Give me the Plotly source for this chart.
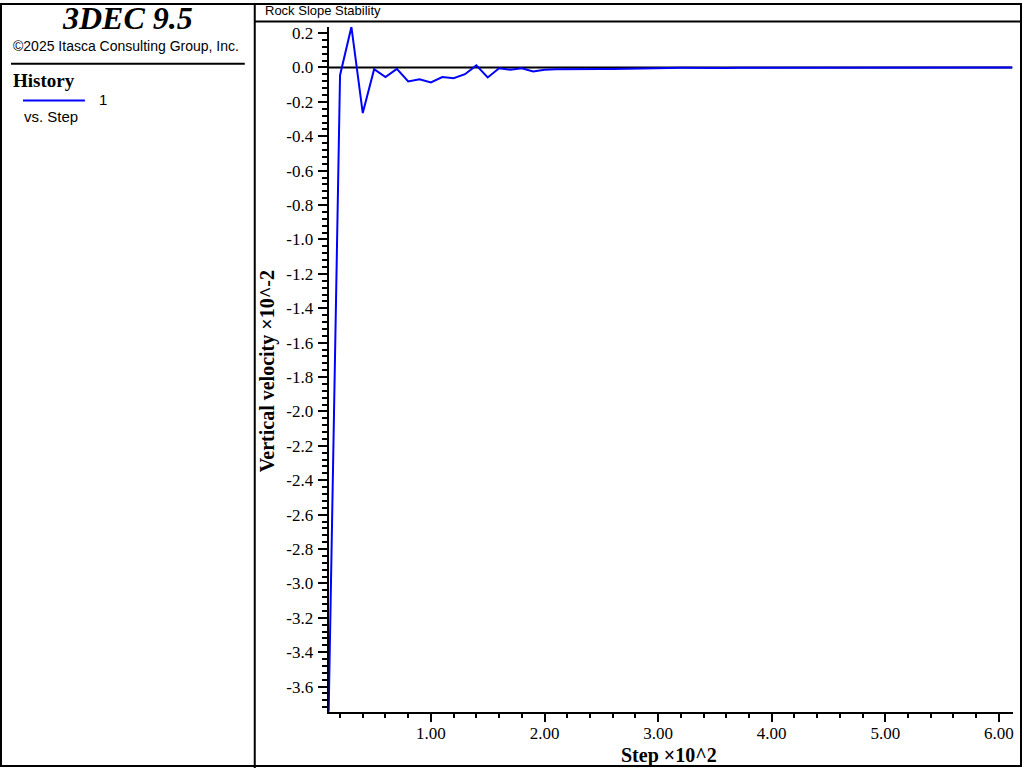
import plotly.graph_objects as go

# ---------------- data ----------------
steps = [0.10, 0.20, 0.30, 0.40, 0.50, 0.60, 0.70, 0.80, 0.90, 1.00,
         1.10, 1.20, 1.30, 1.40, 1.50, 1.60, 1.70, 1.80, 1.90, 2.00,
         2.10, 2.20, 2.30, 2.40, 2.50, 2.60, 2.70, 2.80, 2.90, 3.00,
         3.10, 3.20, 3.30, 3.40, 3.50, 3.60, 3.70, 3.80, 3.90, 4.00,
         4.10, 4.20, 4.30, 4.40, 4.50, 4.60, 4.70, 4.80, 4.90, 5.00,
         5.10, 5.20, 5.30, 5.40, 5.50, 5.60, 5.70, 5.80, 5.90, 6.00,
         6.10, 6.12]
velocity = [-3.746, -0.045, 0.236, -0.265, -0.010, -0.056, -0.008, -0.081, -0.068, -0.087,
            -0.056, -0.062, -0.039, 0.012, -0.058, -0.004, -0.013, -0.004, -0.023, -0.013,
            -0.010, -0.009, -0.009, -0.006, -0.009, -0.009, -0.007, -0.005, -0.004, -0.001,
            -0.003, -0.002, -0.003, -0.004, -0.003, -0.003, -0.001, -0.001, 0.000, -0.001,
            0.000, -0.001, 0.000, 0.000, -0.001, 0.000, 0.000, 0.000, -0.001, 0.000,
            0.000, 0.000, 0.000, -0.001, 0.000, 0.000, 0.000, 0.000, 0.000, 0.000,
            0.000, 0.000]

x_tick_vals = [1, 2, 3, 4, 5, 6]
x_tick_text = ["1.00", "2.00", "3.00", "4.00", "5.00", "6.00"]
y_tick_vals = [0.2, 0.0, -0.2, -0.4, -0.6, -0.8, -1.0, -1.2, -1.4, -1.6, -1.8,
               -2.0, -2.2, -2.4, -2.6, -2.8, -3.0, -3.2, -3.4, -3.6]
y_tick_text = ["0.2", "0.0", "-0.2", "-0.4", "-0.6", "-0.8", "-1.0", "-1.2", "-1.4",
               "-1.6", "-1.8", "-2.0", "-2.2", "-2.4", "-2.6", "-2.8", "-3.0", "-3.2",
               "-3.4", "-3.6"]

x_range = [0.10, 6.12]
y_range = [-3.746, 0.236]

# ---------------- layout helpers (pixel -> paper) ----------------
W, H = 1024, 768
def px(x):
    return x / W
def py(y):
    return 1 - y / H

SERIF = "Liberation Serif, Times New Roman, serif"
SANS = "Liberation Sans, Arial, sans-serif"

fig = go.Figure()
fig.add_trace(go.Scatter(x=steps, y=velocity, mode="lines",
                         line=dict(color="#0000ff", width=2),
                         showlegend=False, hoverinfo="x+y", cliponaxis=False))

fig.update_layout(
    width=W, height=H, autosize=False,
    margin=dict(l=0, r=0, t=0, b=0, pad=0),
    paper_bgcolor="white", plot_bgcolor="white",
    xaxis=dict(domain=[px(329), px(1013.5)], range=x_range,
               showgrid=False, zeroline=False, layer="below traces",
               showline=True, linecolor="black", linewidth=2,
               tickmode="array", tickvals=x_tick_vals, ticktext=x_tick_text,
               ticks="outside", ticklen=8, tickwidth=2, tickcolor="black",
               ticklabelstandoff=-3,
               tickfont=dict(family=SERIF, size=17, color="black"),
               minor=dict(tick0=0, dtick=0.2, ticks="outside", ticklen=4,
                          tickwidth=2, tickcolor="black", showgrid=False)),
    yaxis=dict(domain=[py(711.5), py(24)], range=y_range,
               showgrid=False, zeroline=False, layer="below traces",
               showline=True, linecolor="black", linewidth=2,
               tickmode="array", tickvals=y_tick_vals, ticktext=y_tick_text,
               ticks="outside", ticklen=9, tickwidth=2, tickcolor="black",
               ticklabelstandoff=1,
               tickfont=dict(family=SERIF, size=17, color="black"),
               minor=dict(tick0=0, dtick=0.04, ticks="outside", ticklen=5,
                          tickwidth=2, tickcolor="black", showgrid=False)),
)

shapes = [
    # outer frame
    dict(type="rect", xref="paper", yref="paper", x0=px(1), x1=px(1022),
         y0=py(766), y1=py(1), line=dict(color="black", width=2)),
    # divider between info panel and plot
    dict(type="line", xref="paper", yref="paper", x0=px(255), x1=px(255),
         y0=py(0), y1=py(768), line=dict(color="black", width=2)),
    # title box line
    dict(type="line", xref="paper", yref="paper", x0=px(255), x1=px(1023), y0=py(18.5), y1=py(18.5),
         line=dict(color="black", width=2)),
    # info panel separator
    dict(type="line", xref="paper", yref="paper", x0=px(11), x1=px(245), y0=py(61), y1=py(61),
         line=dict(color="black", width=2)),
    # legend swatch
    dict(type="line", xref="paper", yref="paper", x0=px(23), x1=px(85), y0=py(98), y1=py(98),
         line=dict(color="#0000ff", width=2)),
    # zero line
    dict(type="line", xref="x", yref="y", x0=x_range[0], x1=x_range[1], y0=0, y1=0,
         line=dict(color="black", width=2), layer="below"),
]
fig.update_layout(shapes=shapes)

annotations = [
    dict(text="<b><i>3DEC 9.5</i></b>", x=px(128), y=py(15), font=dict(family=SERIF, size=32, color="black"),
         xanchor="center", yanchor="middle"),
    dict(text="©2025 Itasca Consulting Group, Inc.", x=px(11), y=py(43),
         font=dict(family=SANS, size=14, color="black"), xanchor="left", yanchor="middle"),
    dict(text="<b>History</b>", x=px(11), y=py(78), font=dict(family=SERIF, size=19, color="black"),
         xanchor="left", yanchor="middle"),
    dict(text="1", x=px(97), y=py(97), font=dict(family=SANS, size=15, color="black"),
         xanchor="left", yanchor="middle"),
    dict(text="vs. Step", x=px(22), y=py(113.5), font=dict(family=SANS, size=15, color="black"),
         xanchor="left", yanchor="middle"),
    dict(text="Rock Slope Stability", x=px(263), y=py(7.5), font=dict(family=SANS, size=13, color="black"),
         xanchor="left", yanchor="middle"),
    dict(text="<b>Step ×10^2</b>", x=px(670), y=py(755), font=dict(family=SERIF, size=20, color="black"),
         xanchor="center", yanchor="middle"),
    dict(text="<b>Vertical velocity ×10^-2</b>", x=px(268), y=py(370), textangle=-90,
         font=dict(family=SERIF, size=20, color="black"), xanchor="center", yanchor="middle"),
]
for a in annotations:
    a.update(xref="paper", yref="paper", showarrow=False)
fig.update_layout(annotations=annotations)

fig.write_html(
    "out.html",
    config={"displayModeBar": False},
    post_script=(
        "document.documentElement.style.margin='0';"
        "document.body.style.margin='0';document.body.style.padding='0';"
        "document.body.style.overflow='hidden';"
        "var g=document.getElementById('{plot_id}');"
        "g.style.position='fixed';g.style.top='0px';g.style.left='0px';"
    ),
)
